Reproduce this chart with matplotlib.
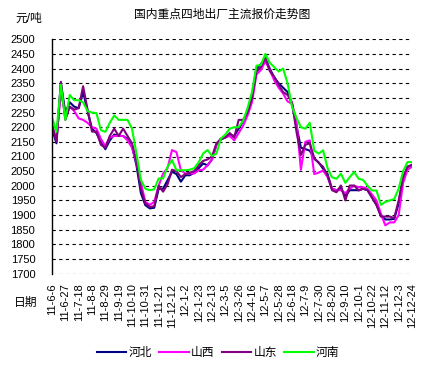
import numpy as np
import matplotlib
matplotlib.use("Agg")
import matplotlib.pyplot as plt

plt.rcParams['font.family'] = ['Liberation Sans', 'Noto Sans CJK SC']

# weekly quotes, week 0 = 2011-06-06
tick_labels = ['11-6-6', '11-6-27', '11-7-18', '11-8-8', '11-8-29', '11-9-19',
               '11-10-10', '11-10-31', '11-11-21', '11-12-12', '12-1-2', '12-1-23',
               '12-2-13', '12-3-5', '12-3-26', '12-4-16', '12-5-7', '12-5-28',
               '12-6-18', '12-7-9', '12-7-30', '12-8-20', '12-9-10', '12-10-1',
               '12-10-22', '12-11-12', '12-12-3', '12-12-24']

hebei = [2195, 2145, 2350, 2250, 2285, 2270, 2265, 2320, 2255, 2195,
         2180, 2150, 2125, 2155, 2175, 2170, 2170, 2160, 2135, 2070,
         1975, 1934, 1923, 1925, 1990, 1990, 2019, 2048, 2040, 2014,
         2036, 2036, 2045, 2060, 2076, 2070, 2090, 2140, 2158, 2165,
         2175, 2170, 2195, 2220, 2255, 2310, 2400, 2415, 2435, 2400,
         2370, 2350, 2335, 2320, 2280, 2205, 2130, 2125, 2120, 2092,
         2080, 2058, 2040, 1990, 1985, 1990, 1965, 1985, 1985, 1985,
         1990, 1985, 1960, 1935, 1900, 1885, 1885, 1887, 1940, 2025,
         2065, 2070]
shanxi = [2205, 2160, 2320, 2240, 2270, 2255, 2230, 2225, 2215, 2200,
          2195, 2160, 2135, 2165, 2170, 2170, 2170, 2155, 2130, 2080,
          2010, 1945, 1935, 1945, 2000, 2042, 2060, 2122, 2115, 2053,
          2042, 2042, 2042, 2053, 2055, 2070, 2090, 2140, 2162, 2165,
          2170, 2155, 2180, 2205, 2240, 2285, 2380, 2395, 2425, 2395,
          2360, 2335, 2315, 2288, 2280, 2222, 2055, 2150, 2155, 2040,
          2045, 2052, 2030, 1990, 1985, 1985, 1975, 1990, 2000, 1995,
          1995, 1990, 1970, 1950, 1905, 1865, 1875, 1875, 1900, 2010,
          2055, 2065]
shandong = [2210, 2150, 2355, 2225, 2270, 2260, 2265, 2340, 2260, 2185,
            2185, 2140, 2130, 2170, 2195, 2170, 2195, 2170, 2145, 2085,
            1990, 1940, 1928, 1930, 2000, 1980, 2005, 2055, 2050, 2030,
            2040, 2045, 2050, 2070, 2085, 2090, 2100, 2145, 2160, 2165,
            2180, 2165, 2225, 2225, 2250, 2300, 2390, 2405, 2438, 2392,
            2372, 2345, 2320, 2310, 2285, 2185, 2105, 2140, 2145, 2095,
            2078, 2065, 2035, 1985, 1978, 2001, 1950, 2001, 2001, 1984,
            1990, 1985, 1960, 1935, 1895, 1895, 1895, 1890, 1950, 2030,
            2065, 2072]
henan = [2235, 2184, 2345, 2225, 2310, 2292, 2292, 2285, 2255, 2250,
         2248, 2190, 2184, 2215, 2240, 2225, 2225, 2225, 2195, 2110,
         2020, 1990, 1985, 1988, 2025, 2025, 2065, 2088, 2053, 2053,
         2053, 2055, 2060, 2080, 2110, 2122, 2102, 2110, 2161, 2175,
         2195, 2200, 2200, 2222, 2265, 2320, 2410, 2412, 2450, 2420,
         2405, 2390, 2400, 2350, 2270, 2232, 2200, 2195, 2215, 2120,
         2110, 2121, 2060, 2029, 2024, 2041, 2010, 2030, 2047, 2024,
         2020, 2000, 1984, 1984, 1935, 1945, 1950, 1955, 1990, 2050,
         2081, 2081]

series = [('河北', hebei, '#000080'),
          ('山西', shanxi, '#FF00FF'),
          ('山东', shandong, '#800080'),
          ('河南', henan, '#00FF00')]

fig = plt.figure(figsize=(4.33, 3.70), dpi=100)
ax = fig.add_axes([52 / 433, 1 - 273.7 / 370, 360 / 433, 234.4 / 370])

weeks = np.arange(len(hebei))
for name, vals, color in series:
    ax.plot(weeks, vals, color=color, linewidth=1.5, label=name)

ax.set_xlim(0, 81)
ax.set_ylim(1700, 2500)
ax.set_yticks(np.arange(1700, 2501, 50))
ax.set_xticks(np.arange(0, 82, 3))
ax.set_xticklabels(tick_labels, rotation=90, fontsize=8)
ax.tick_params(axis='y', labelsize=8, length=0, pad=12)
ax.tick_params(axis='x', length=0, pad=7)

ax.yaxis.grid(True, color='black', linestyle=(0, (3, 3)), linewidth=0.8)
ax.set_axisbelow(True)
for s in ['top', 'right', 'bottom']:
    ax.spines[s].set_visible(False)
ax.spines['left'].set_linewidth(1.0)

fig.text(222 / 433, 1 - 15 / 370, '国内重点四地出厂主流报价走势图',
         ha='center', va='center', fontsize=8.5)
fig.text(15 / 433, 1 - 19 / 370, '元/吨', ha='left', va='center', fontsize=8.5)
fig.text(14 / 433, 1 - 303 / 370, '日期', ha='left', va='center', fontsize=8.5)

fig.legend(loc='center', bbox_to_anchor=(218 / 433, 1 - 353 / 370), ncol=4,
           frameon=False, fontsize=8.5, handlelength=2.5, handletextpad=0.2,
           columnspacing=0.6)

fig.savefig('out.png', dpi=100)
